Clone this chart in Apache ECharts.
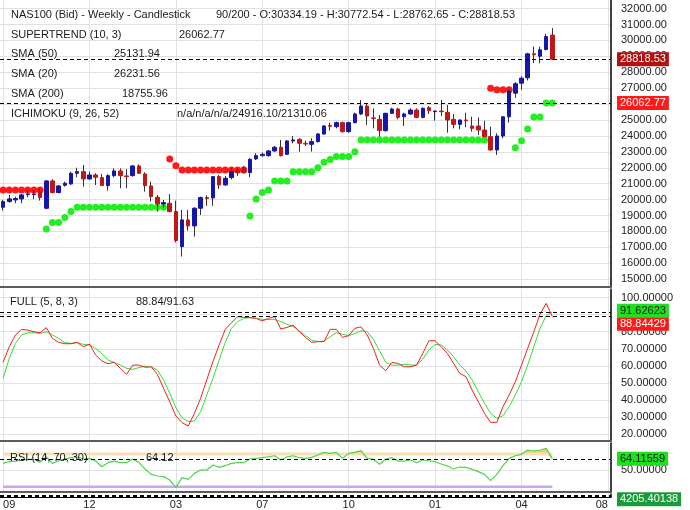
<!DOCTYPE html>
<html><head><meta charset="utf-8">
<script src="https://cdn.jsdelivr.net/npm/echarts@6/dist/echarts.min.js"></script>
<style>html,body{margin:0;padding:0;background:#fff}#c{width:690px;height:510px}</style>
</head><body><div id="c"></div>
<script>
// ---------- DATA ----------
// weekly candles: [open, close, low, high]
const ohlc = [
[19519,19875,19310,19979],[19875,20042,19812,20293],[19980,20063,19770,20188],[20042,20293,19770,20356],
[20314,20356,20147,20565],[20314,20356,20021,20565],[20502,20126,19937,20712],[19456,21172,19394,21234],
[21172,20440,20398,21276],[20440,20858,20398,20921],[20900,21025,20816,21130],[20983,21653,20921,21757],
[21653,21757,21402,22008],[21757,21297,20816,22176],[21297,21548,21234,21757],[21548,21402,20921,21653],
[21381,20879,20858,21611],[20879,21506,20565,21590],[21506,21799,21402,21966],[21799,21506,20712,21966],
[21485,21444,20712,21904],[21506,22113,21444,22176],[22113,21653,21611,22218],[21611,20879,20502,21716],
[20858,20188,19875,21130],[20147,19728,19247,20293],[19728,19812,19456,19979],[19770,19247,19205,20356],
[19247,17427,17302,19937],[17050,18724,16423,19352],[18724,18348,18055,19352],[18348,19456,17678,19519],
[19456,20126,19038,20188],[20126,20063,19603,20272],[20105,21444,19603,21485],[21444,20921,20670,21548],
[20921,21339,20858,21485],[21381,21757,21276,21966],[21822,21696,21487,21950],[22031,21696,21654,22115],
[21696,22533,21403,22595],[22554,22763,22491,22909],[22763,22846,22700,22951],[22763,23055,22700,23118],
[23055,23286,22993,23369],[23286,22763,22700,23745],[22846,23683,22804,23745],[23683,23745,23536,24000],
[23787,23536,23013,23850],[23536,23494,23369,23704],[23474,23641,23013,23850],[23641,24122,23578,24164],
[24122,24624,24059,24686],[24645,24603,24331,24833],[24582,24833,24477,24896],[24833,24268,24205,24896],
[24268,24833,24205,24896],[24833,25377,24791,25460],[25377,25878,25314,26255],[25878,25250,24686,26040],
[25130,25090,24477,25732],[25042,24331,23955,25314],[24331,25418,24268,25460],[25418,25690,25377,25774],
[25690,25167,25042,25774],[25209,25377,24624,25460],[25377,25627,25314,25732],[25627,25167,25105,25732],
[25167,25732,25105,25795],[25774,25586,25377,25878],[25523,25565,24958,25586],[25565,25523,25251,26255],
[25481,25000,24205,25941],[25042,24728,24477,25377],[24728,25000,24415,25042],[25000,24958,24540,25460],
[24624,24477,24268,25209],[24624,24373,24059,25167],[24373,23955,23913,24958],[23955,23118,23076,24582],
[23118,23996,22804,24164],[23996,25200,23850,25250],[25200,26800,24833,26960],[26686,27276,26397,27376],
[27313,27627,26900,27733],[27652,29158,27483,29220],[29158,29095,28568,29616],[29007,29409,28568,29616],
[29428,30243,29365,30413],[30334.19,28818.53,28762.65,30772.54]
];
// Supertrend (10,3) – green (up) and red (down) dots
const superUp = [
null,null,null,null,null,null,null,18159,18557,18557,18870,19247,19519,19519,19519,19519,19519,19519,19519,19519,
19519,19519,19519,19519,19519,19519,19519,null,null,null,null,null,null,null,null,null,null,null,null,null,
18975,20042,20440,20607,21172,21172,21172,21757,21757,21757,21757,22008,22350,22520,22700,22700,22700,23013,23745,23745,
23745,23745,23745,23745,23745,23745,23745,23745,23745,23745,23745,23745,23745,23745,23745,23745,23745,23745,23745,null,
null,null,null,23260,23690,24440,25190,25190,26062.77,26062.77
];
const superDown = [
20607,20607,20607,20607,20607,20607,20607,null,null,null,null,null,null,null,null,null,null,null,null,null,
null,null,null,null,null,null,null,22552,22134,21862,21862,21862,21862,21862,21862,21862,21862,21862,21862,21862,
null,null,null,null,null,null,null,null,null,null,null,null,null,null,null,null,null,null,null,null,
null,null,null,null,null,null,null,null,null,null,null,null,null,null,null,null,null,null,null,27000,
26900,26900,26900,null,null,null,null,null,null,null
];
// Full stochastic (5,8,3)
const stochK = [
62.1,71.2,78.1,81.4,81.0,80.0,79.4,82.4,76.1,73.8,73.0,73.0,73.8,71.2,72.8,66.4,62.9,61.3,62.1,58.6,
55.1,60.5,60.5,59.2,59.5,55.1,46.9,39.1,30.7,26.8,24.9,32.3,41.0,51.8,62.5,72.2,81.4,85.3,88.8,88.4,
88.2,87.8,86.3,87.8,88.8,81.6,82.5,83.9,80.0,76.7,73.8,74.2,74.2,81.4,81.4,76.7,77.7,82.0,82.9,78.1,
70.3,60.5,57.2,62.1,61.5,59.5,59.5,60.5,67.3,74.7,74.7,71.2,67.3,61.5,55.7,53.7,45.9,39.1,32.3,27.0,
27.0,36.2,43.0,50.8,60.5,70.3,80.0,90.2,96.6,88.84429
];
const stochD = [
52.7,64.4,73.2,78.1,79.4,79.4,79.0,80.0,78.1,76.1,73.6,73.2,73.6,72.6,72.2,70.3,67.3,63.4,62.1,60.5,
58.6,58.0,59.0,59.9,59.5,57.6,51.8,44.0,35.6,29.7,27.4,27.8,33.2,43.0,52.7,63.4,73.8,82.0,85.9,87.8,
88.4,87.8,87.2,87.2,87.2,85.9,84.3,83.0,80.6,77.7,75.1,74.2,74.6,77.1,79.4,78.5,77.7,79.0,80.6,80.0,
75.5,68.9,62.1,60.5,60.5,60.9,60.5,60.5,64.0,69.3,72.6,72.2,69.3,65.4,60.5,57.0,51.8,44.9,38.1,32.3,
29.3,30.9,36.2,43.0,50.8,60.5,71.2,82.0,89.4,91.62623
];
// RSI (14,70,30)
const rsi = [
58.6,60.6,61.4,62.7,63.5,63.5,59.8,66.7,58.6,61.8,63.9,65.5,66.7,63.9,64.7,61.4,54.5,59.4,61.4,59.4,
59.4,63.9,59.8,51.6,45.1,43.1,42.3,38.2,29.2,41.1,39.0,46.3,50.4,50.4,56.5,53.7,55.7,58.6,59.4,59.4,
63.9,64.7,65.5,66.7,67.9,62.7,66.7,67.9,65.5,64.7,65.9,68.8,72.0,70.8,72.0,64.7,70.8,72.0,74.1,64.7,
63.5,57.4,63.9,65.5,61.4,61.4,62.7,59.4,62.7,61.8,60.6,57.8,55.3,51.6,54.1,53.7,51.2,48.4,45.1,37.4,
45.1,55.7,64.7,67.9,69.6,74.9,73.7,74.9,76.9,64.11559
];
const rsiUpper = 70, rsiLower = 30;
const macdValue = 4205.40138, macdSignal = 3570;
// header texts
const headerNames = ['NAS100 (Bid) - Weekly - Candlestick','SUPERTREND (10, 3)','SMA (50)','SMA (20)','SMA (200)','ICHIMOKU (9, 26, 52)'];
const headerValues = [null,'26062.77','25131.94','26231.56','18755.96','n/a/n/a/n/a/24916.10/21310.06'];
// axis ticks
const priceTicks = [15000,16000,17000,18000,19000,20000,21000,22000,23000,24000,25000,26000,27000,28000,29000,30000,31000,32000];
const stochTicks = [20,30,40,50,60,70,80,90,100];
const rsiTicks = [50];
const xTickIdx = [0,14,28,42,56,70,84,98];
const xTickLabels = ['09','12','03','07','10','01','04','08'];
const slotCount = 99;

// ---------- CHART ----------
const FONT = "'Liberation Sans', Arial, Helvetica, sans-serif";
const BLUE = '#1616a8', RED = '#c01818';
const slots = Array.from({length: slotCount}, (_, i) => String(i));
const last = ohlc[ohlc.length - 1];
const lastSuper = superUp[superUp.length - 1];
const nK = stochK[stochK.length - 1], nD = stochD[stochD.length - 1], nR = rsi[rsi.length - 1];
const isTick = (i) => xTickIdx.indexOf(i) >= 0;

function xAxisFor(g, showLabels, lineColor, lineWidth) {
  return {
    type: 'category', gridIndex: g, data: slots, boundaryGap: true,
    axisLine: {show: true, onZero: false, lineStyle: {color: lineColor, width: lineWidth}},
    axisTick: {show: false, alignWithLabel: true, interval: isTick},
    axisLabel: showLabels ? {
      show: true, interval: isTick, margin: 2, fontSize: 11, color: '#222', fontFamily: FONT,
      alignMinLabel: 'left', alignMaxLabel: 'right',
      formatter: (v, i) => xTickLabels[xTickIdx.indexOf(Number(v))] || ''
    } : {show: false},
    splitLine: {show: true, alignWithLabel: true, interval: isTick, lineStyle: {color: '#e1e1e1', width: 1}}
  };
}
function yAxisFor(g, min, max, ticks, digits, showSplit) {
  return {
    type: 'value', gridIndex: g, position: 'right', min: min, max: max,
    axisLine: {show: true, lineStyle: {color: '#000', width: 1.5}},
    axisTick: {show: false, customValues: ticks},
    axisLabel: {show: ticks.length > 0, customValues: ticks, formatter: v => Number(v).toFixed(digits),
      fontSize: 11, color: '#222', margin: 10, fontFamily: FONT},
    splitLine: {show: showSplit, lineStyle: {color: '#e1e1e1', width: 1}}
  };
}
function badgeLine(value, text, bg, fg, dy) {
  return {
    silent: true, symbol: ['none', 'none'], animation: false,
    lineStyle: {type: [4, 3], color: '#000', width: 1},
    label: {show: true, position: 'end', distance: 6, formatter: text, backgroundColor: bg, color: fg,
      padding: [1, 3], fontSize: 11, lineHeight: 12, fontFamily: FONT, offset: [0, dy || 0]},
    data: [{yAxis: value}]
  };
}

const graphics = [];
const rowY = [15, 34.5, 54, 73.5, 93.5, 113.5];
const valX = [216, 179, 114, 114, 122, 177];
headerNames.forEach((t, r) => {
  graphics.push({type: 'text', x: 11, y: rowY[r], z: 100,
    style: {text: t, font: '11px ' + FONT, fill: '#1a1a1a', verticalAlign: 'middle', align: 'left'}});
  const v = r === 0
    ? `${ohlc.length}/200 - O:${last[0].toFixed(2)} - H:${last[3].toFixed(2)} - L:${last[2].toFixed(2)} - C:${last[1].toFixed(2)}`
    : headerValues[r];
  graphics.push({type: 'text', x: valX[r], y: rowY[r], z: 100,
    style: {text: v, font: '11px ' + FONT, fill: '#1a1a1a', verticalAlign: 'middle', align: 'left'}});
});
graphics.push({type: 'text', x: 10, y: 302, z: 100, style: {text: 'FULL (5, 8, 3)', font: '11px ' + FONT, fill: '#1a1a1a', verticalAlign: 'middle'}});
graphics.push({type: 'text', x: 136, y: 302, z: 100, style: {text: nK.toFixed(2) + '/' + nD.toFixed(2), font: '11px ' + FONT, fill: '#1a1a1a', verticalAlign: 'middle'}});
graphics.push({type: 'text', x: 10, y: 457.5, z: 100, style: {text: 'RSI (14, 70, 30)', font: '11px ' + FONT, fill: '#1a1a1a', verticalAlign: 'middle'}});
graphics.push({type: 'text', x: 146, y: 457.5, z: 100, style: {text: nR.toFixed(2), font: '11px ' + FONT, fill: '#1a1a1a', verticalAlign: 'middle'}});

const bodies = ohlc.map(d => [d[0], d[1], Math.min(d[0], d[1]), Math.max(d[0], d[1])]);
const rsiBase = rsi.map(v => Math.min(v, rsiUpper));
const rsiOver = rsi.map(v => Math.max(v - rsiUpper, 0));
const upperLine = rsi.map(() => rsiUpper);
const lowerLine = rsi.map(() => rsiLower);

const option = {
  animation: false,
  textStyle: {fontFamily: FONT},
  grid: [
    {left: 0, right: 79, top: 0, height: 287},
    {left: 0, right: 79, top: 289, height: 152},
    {left: 0, right: 79, top: 443, height: 49},
    {left: 0, right: 79, top: 494, height: 7}
  ],
  xAxis: [
    xAxisFor(0, false, '#5c5c5c', 2),
    xAxisFor(1, false, '#5c5c5c', 2),
    xAxisFor(2, false, '#5c5c5c', 2),
    xAxisFor(3, true, '#000', 1)
  ],
  yAxis: [
    yAxisFor(0, 14510, 32538, priceTicks, 2, true),
    yAxisFor(1, 16.1, 105, stochTicks, 5, true),
    yAxisFor(2, 23.5, 83.5, rsiTicks, 5, true),
    yAxisFor(3, 3000, 5000, [], 2, false)
  ],
  graphic: graphics,
  series: [
    {type: 'scatter', name: 'stUp', xAxisIndex: 0, yAxisIndex: 0, data: superUp, symbol: 'circle', symbolSize: 7,
      itemStyle: {color: '#22ee22', opacity: 1}, z: 2},
    {type: 'scatter', name: 'stDown', xAxisIndex: 0, yAxisIndex: 0, data: superDown, symbol: 'circle', symbolSize: 7,
      itemStyle: {color: '#ff1a1a', opacity: 1}, z: 2,
      markLine: badgeLine(lastSuper, lastSuper.toFixed(2), '#ff1a1a', '#fff')},
    {type: 'candlestick', name: 'wicks', xAxisIndex: 0, yAxisIndex: 0, data: ohlc, barWidth: 1,
      itemStyle: {color: '#333', color0: '#333', borderColor: '#333', borderColor0: '#333', borderWidth: 1}, z: 3},
    {type: 'candlestick', name: 'bodies', xAxisIndex: 0, yAxisIndex: 0, data: bodies, barWidth: 4,
      itemStyle: {color: BLUE, color0: RED, borderColor: BLUE, borderColor0: RED, borderWidth: 1}, z: 4,
      markLine: badgeLine(last[1], last[1].toFixed(2), '#b31010', '#fff')},
    {type: 'line', name: '%K', xAxisIndex: 1, yAxisIndex: 1, data: stochK, showSymbol: false,
      lineStyle: {color: '#ee2020', width: 1}, z: 4,
      markLine: badgeLine(nK, nK.toFixed(5), '#ff1a1a', '#fff', 7)},
    {type: 'line', name: '%D', xAxisIndex: 1, yAxisIndex: 1, data: stochD, showSymbol: false,
      lineStyle: {color: '#33dd33', width: 1}, z: 3,
      markLine: badgeLine(nD, nD.toFixed(5), '#1fe01f', '#1a1a1a', -1)},
    {type: 'line', name: 'upper', xAxisIndex: 2, yAxisIndex: 2, data: upperLine, showSymbol: false,
      lineStyle: {color: '#f8e0b0', width: 3}, z: 2},
    {type: 'line', name: 'lower', xAxisIndex: 2, yAxisIndex: 2, data: lowerLine, showSymbol: false,
      lineStyle: {color: '#c8a6f4', width: 2.5}, z: 2},
    {type: 'line', name: 'rsiBase', xAxisIndex: 2, yAxisIndex: 2, data: rsiBase, stack: 'ob', showSymbol: false,
      lineStyle: {opacity: 0}, z: 2},
    {type: 'line', name: 'rsiOver', xAxisIndex: 2, yAxisIndex: 2, data: rsiOver, stack: 'ob', showSymbol: false,
      lineStyle: {opacity: 0}, areaStyle: {color: '#f5c46c', opacity: 0.9}, z: 2},
    {type: 'line', name: 'RSI', xAxisIndex: 2, yAxisIndex: 2, data: rsi, showSymbol: false,
      lineStyle: {color: '#4ed44e', width: 1.2}, z: 4,
      markLine: badgeLine(nR, nR.toFixed(5), '#1fe01f', '#1a1a1a')},
    {type: 'line', name: 'macd', xAxisIndex: 3, yAxisIndex: 3, data: [], z: 4,
      markLine: {silent: true, symbol: ['none', 'none'], lineStyle: {type: [4, 3], color: '#000', width: 1},
        label: {show: false},
        data: [
          {yAxis: macdValue, label: {show: true, position: 'end', distance: 6, formatter: macdValue.toFixed(5),
            backgroundColor: '#1c9a3a', color: '#fff', padding: [1, 3], fontSize: 11, lineHeight: 12, offset: [0, 4]}},
          {yAxis: macdSignal}
        ]}}
  ]
};
const chart = echarts.init(document.getElementById('c'));
chart.setOption(option);
</script>
</body></html>
